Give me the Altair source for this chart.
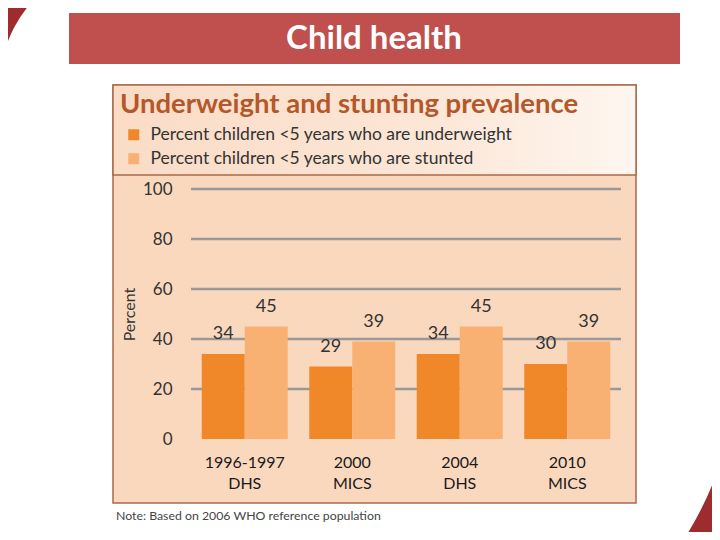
import altair as alt
import pandas as pd

# ---- data ----
years = ["1996-1997", "2000", "2004", "2010"]
surveys = ["DHS", "MICS", "DHS", "MICS"]
series = ["Percent children <5 years who are underweight",
          "Percent children <5 years who are stunted"]
underweight = [34, 29, 34, 30]
stunted = [45, 39, 45, 39]
y_ticks = [0, 20, 40, 60, 80, 100]
grid_lines = [20, 40, 60, 80, 100]

periods = [f"{y}|{s}" for y, s in zip(years, surveys)]
rows = []
for p, u, s in zip(periods, underweight, stunted):
    rows.append({"period": p, "series": series[0], "value": u})
    rows.append({"period": p, "series": series[1], "value": s})
df = pd.DataFrame(rows)
grid_df = pd.DataFrame({"value": grid_lines})

FONT = "Lato"
one = pd.DataFrame({"a": [0]})

# ---- decorations (pixel positions relative to plot origin) ----
deco_tl = alt.Chart(one).mark_arc(innerRadius=128, outerRadius=600, theta=4.54, theta2=5.85,
                                   color="#9e2b2d").encode(x=alt.value(-63.5), y=alt.value(-102))
deco_br = alt.Chart(one).mark_arc(innerRadius=364, outerRadius=800, theta=1.74, theta2=2.27,
                                   color="#9e2b2d").encode(x=alt.value(185), y=alt.value(156))
banner = alt.Chart(one).mark_rect(color="#c0504d").encode(
    x=alt.value(-122), x2=alt.value(489), y=alt.value(-176), y2=alt.value(-125))
banner_text = alt.Chart(one).mark_text(text="Child health", color="white", font=FONT,
                                       fontWeight="bold", fontSize=33, align="center",
                                       baseline="middle").encode(x=alt.value(183), y=alt.value(-150))
panel = alt.Chart(one).mark_rect(fill="#f9d8be", stroke="#a9694a", strokeWidth=1.5).encode(
    x=alt.value(-78), x2=alt.value(445), y=alt.value(-104), y2=alt.value(314))
header = alt.Chart(one).mark_rect(
    fill=alt.Gradient(gradient="linear", x1=0, y1=0, x2=1, y2=0,
                      stops=[alt.GradientStop(color="#fadcc6", offset=0),
                             alt.GradientStop(color="#fce6d6", offset=0.6),
                             alt.GradientStop(color="#fef6f0", offset=1)]),
    stroke="#a9694a", strokeWidth=1.5).encode(
    x=alt.value(-78), x2=alt.value(445), y=alt.value(-104), y2=alt.value(-14))
panel_title = alt.Chart(one).mark_text(text="Underweight and stunting prevalence", color="#b4582c",
                                       font=FONT, fontWeight="bold", fontSize=27.5, align="left",
                                       baseline="alphabetic").encode(x=alt.value(-71), y=alt.value(-76))
note = alt.Chart(one).mark_text(text="Note: Based on 2006 WHO reference population", color="#444444",
                                font=FONT, fontSize=12.3, align="left",
                                baseline="alphabetic").encode(x=alt.value(-75), y=alt.value(331))

# ---- gridlines ----
grid = alt.Chart(grid_df).mark_rule(color="#999999", strokeWidth=2.5).encode(
    y=alt.Y("value:Q"), x=alt.value(0), x2=alt.value(430))

# ---- bars ----
xenc = alt.X("period:N", sort=periods,
             scale=alt.Scale(paddingInner=0.2, paddingOuter=0.1),
             axis=alt.Axis(title=None, labelExpr="split(datum.label, '|')", labelAngle=0,
                           labelFontSize=16, labelLineHeight=21, labelColor="#1a1a1a",
                           labelFont=FONT, labelPadding=15, domain=False, ticks=False,
                           zindex=1))
yenc = alt.Y("value:Q", scale=alt.Scale(domain=[0, 100]),
             axis=alt.Axis(title="Percent", values=y_ticks, labelFontSize=17, labelColor="#333333",
                           labelFont=FONT, labelPadding=19, ticks=False, domain=False,
                           titleFont=FONT, titleFontSize=16, titleFontWeight="normal",
                           titleColor="#333333", titlePadding=5, grid=False, zindex=1))
bars = alt.Chart(df).mark_bar().encode(
    x=xenc,
    xOffset=alt.XOffset("series:N", sort=series, scale=alt.Scale(paddingInner=0)),
    y=yenc,
    color=alt.Color("series:N", sort=series,
                    scale=alt.Scale(domain=series, range=["#f0882a", "#f8b073"]),
                    legend=alt.Legend(title=None, orient="none", legendX=-66, legendY=-63,
                                      symbolType="square", symbolSize=121, symbolStrokeWidth=0,
                                      labelFontSize=17.5, labelFont=FONT, labelColor="#333333",
                                      labelOffset=8, rowPadding=5, padding=0,
                                      labelLimit=500)),
)
labels = alt.Chart(df).mark_text(fontSize=18, font=FONT, color="#333333", baseline="alphabetic",
                                 dy=-15).encode(
    x=alt.X("period:N", sort=periods),
    xOffset=alt.XOffset("series:N", sort=series),
    y="value:Q",
    text="value:Q",
)

chart = alt.layer(deco_tl, deco_br, banner, banner_text, panel, header, panel_title, note,
                  grid, bars, labels).properties(
    width=430, height=250,
    autosize=alt.AutoSizeParams(type="none"),
    padding={"left": 183, "top": 181, "right": 91, "bottom": 93},
    background="white",
).configure_view(stroke=None)

chart.save("out.html", embed_options={"renderer": "svg", "actions": False})
